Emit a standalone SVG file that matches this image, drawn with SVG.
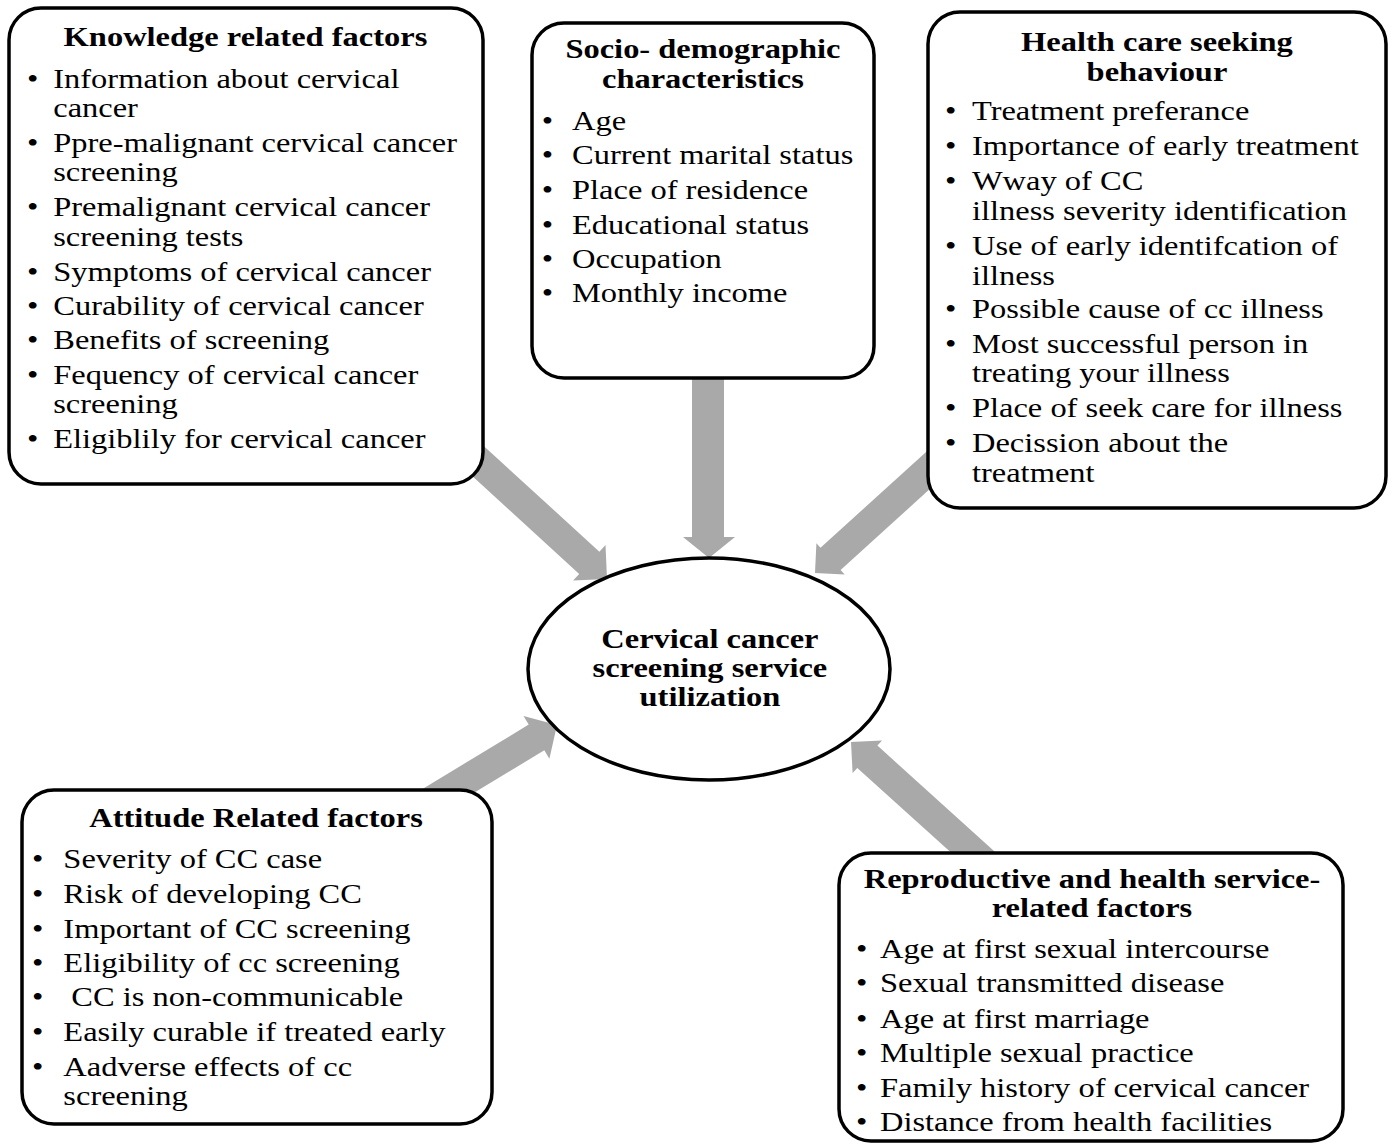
<svg xmlns="http://www.w3.org/2000/svg" width="1396" height="1144" viewBox="0 0 1396 1144">
<style>
.box{fill:#fff;stroke:#000;stroke-width:3.5}
.arr{fill:#A9A9A9;stroke:none}
text{font-family:"Liberation Serif","Times New Roman",serif;font-size:28px;fill:#000}
.t{font-weight:bold;text-anchor:middle}
</style>
<rect width="1396" height="1144" fill="#fff"/>
<g id="connectors">
<polygon class="arr" points="444.9,451.1 579.2,573.9 573.1,580.5 607,579 605.5,545.1 599.4,551.7 465.1,428.9"/>
<polygon class="arr" points="692,360 724,360 724,537 735,537 709,558 683,537 692,537"/>
<polygon class="arr" points="934.9,443.9 820.5,547.8 816.4,543.3 815,573 844.7,574.4 840.6,570 955.1,466.1"/>
<polygon class="arr" points="427.8,820.8 544.3,750.3 549.4,758.8 557,725 523.5,716.1 528.7,724.6 412.2,795.2"/>
<polygon class="arr" points="1002,858.2 877.4,745.6 882.1,740.4 851,742 852.6,773.1 857.3,767.9 982,880.4"/>
</g>
<g id="knowledge">
<rect class="box" x="9" y="8" width="474" height="476" rx="32"/>
<g transform="scale(1.16 1)">
<text class="t" x="211.6" y="46">Knowledge related factors</text>
<text x="23.3" y="88">•<tspan x="45.9">Information about cervical</tspan></text>
<text x="45.9" y="117">cancer</text>
<text x="23.3" y="152">•<tspan x="45.9">Ppre-malignant cervical cancer</tspan></text>
<text x="45.9" y="181">screening</text>
<text x="23.3" y="216">•<tspan x="45.9">Premalignant cervical cancer</tspan></text>
<text x="45.9" y="246">screening tests</text>
<text x="23.3" y="281">•<tspan x="45.9">Symptoms of cervical cancer</tspan></text>
<text x="23.3" y="315">•<tspan x="45.9">Curability of cervical cancer</tspan></text>
<text x="23.3" y="349">•<tspan x="45.9">Benefits of screening</tspan></text>
<text x="23.3" y="384">•<tspan x="45.9">Fequency of cervical cancer</tspan></text>
<text x="45.9" y="413">screening</text>
<text x="23.3" y="448">•<tspan x="45.9">Eligiblily for cervical cancer</tspan></text>
</g>
</g>
<g id="socio">
<rect class="box" x="532" y="23" width="342" height="355" rx="32"/>
<g transform="scale(1.16 1)">
<text class="t" x="606" y="58">Socio- demographic</text>
<text class="t" x="606" y="88">characteristics</text>
<text x="467" y="130">•<tspan x="493.1">Age</tspan></text>
<text x="467" y="164">•<tspan x="493.1">Current marital status</tspan></text>
<text x="467" y="199">•<tspan x="493.1">Place of residence</tspan></text>
<text x="467" y="234">•<tspan x="493.1">Educational status</tspan></text>
<text x="467" y="268">•<tspan x="493.1">Occupation</tspan></text>
<text x="467" y="302">•<tspan x="493.1">Monthly income</tspan></text>
</g>
</g>
<g id="healthcare">
<rect class="box" x="928" y="12" width="458" height="496" rx="32"/>
<g transform="scale(1.16 1)">
<text class="t" x="997.4" y="51">Health care seeking</text>
<text class="t" x="997.4" y="81">behaviour</text>
<text x="814.7" y="120">•<tspan x="837.9">Treatment preferance</tspan></text>
<text x="814.7" y="155">•<tspan x="837.9">Importance of early treatment</tspan></text>
<text x="814.7" y="190">•<tspan x="837.9">Wway of CC</tspan></text>
<text x="837.9" y="220">illness severity  identification</text>
<text x="814.7" y="255">•<tspan x="837.9">Use of early identifcation of</tspan></text>
<text x="837.9" y="285">illness</text>
<text x="814.7" y="318">•<tspan x="837.9">Possible cause of cc illness</tspan></text>
<text x="814.7" y="353">•<tspan x="837.9">Most successful person in</tspan></text>
<text x="837.9" y="382">treating your illness</text>
<text x="814.7" y="417">•<tspan x="837.9">Place of seek care for illness</tspan></text>
<text x="814.7" y="452">•<tspan x="837.9">Decission about the</tspan></text>
<text x="837.9" y="482">treatment</text>
</g>
</g>
<g id="center">
<ellipse cx="709" cy="669" rx="181" ry="111" fill="#fff" stroke="#000" stroke-width="3.5"/>
<g transform="scale(1.16 1)">
<text class="t" x="612" y="648">Cervical cancer</text>
<text class="t" x="612" y="677">screening service</text>
<text class="t" x="612" y="706">utilization</text>
</g>
</g>
<g id="attitude">
<rect class="box" x="22" y="790" width="470" height="334" rx="32"/>
<g transform="scale(1.16 1)">
<text class="t" x="220.7" y="827">Attitude Related factors</text>
<text x="27.6" y="868">•<tspan x="54.6">Severity of CC case</tspan></text>
<text x="27.6" y="903">•<tspan x="54.6">Risk of developing CC</tspan></text>
<text x="27.6" y="938">•<tspan x="54.6">Important of CC screening</tspan></text>
<text x="27.6" y="972">•<tspan x="54.6">Eligibility of cc screening</tspan></text>
<text x="27.6" y="1006">•<tspan x="61.5">CC is non-communicable</tspan></text>
<text x="27.6" y="1041">•<tspan x="54.6">Easily curable if treated early</tspan></text>
<text x="27.6" y="1076">•<tspan x="54.6">Aadverse effects of cc</tspan></text>
<text x="54.6" y="1105">screening</text>
</g>
</g>
<g id="reproductive">
<rect class="box" x="839" y="853" width="504" height="288" rx="32"/>
<g transform="scale(1.16 1)">
<text class="t" x="941.4" y="888">Reproductive and health service-</text>
<text class="t" x="941.4" y="917">related factors</text>
<text x="737.9" y="958">•<tspan x="758.6">Age at first sexual intercourse</tspan></text>
<text x="737.9" y="992">•<tspan x="758.6">Sexual transmitted disease</tspan></text>
<text x="737.9" y="1028">•<tspan x="758.6">Age at first marriage</tspan></text>
<text x="737.9" y="1062">•<tspan x="758.6">Multiple sexual practice</tspan></text>
<text x="737.9" y="1097">•<tspan x="758.6">Family history of cervical cancer</tspan></text>
<text x="737.9" y="1131">•<tspan x="758.6">Distance from health facilities</tspan></text>
</g>
</g>
</svg>
